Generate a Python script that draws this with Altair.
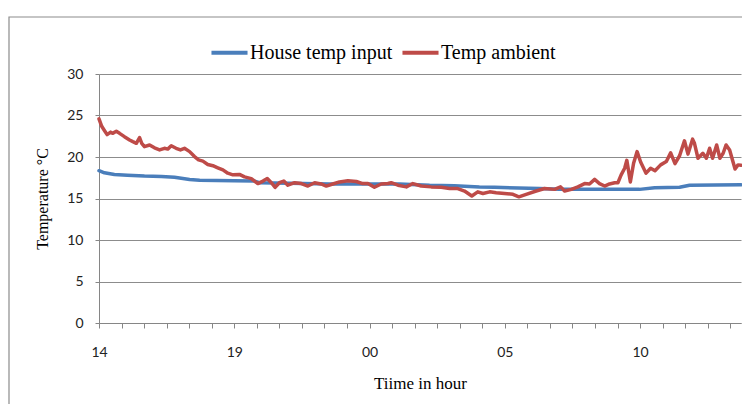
import altair as alt
import pandas as pd

# hours elapsed since 14:00
red_hours = [0.0, 0.10, 0.20, 0.30, 0.43, 0.50, 0.64, 0.76, 0.94, 1.13, 1.25, 1.38, 1.50, 1.58, 1.68,
             1.87, 2.05, 2.24, 2.42, 2.54, 2.67, 2.85, 3.01, 3.16, 3.35, 3.53, 3.68, 3.84, 4.02, 4.21,
             4.39, 4.58, 4.76, 4.95, 5.19, 5.38, 5.63, 5.87, 6.06, 6.22, 6.37, 6.51, 6.67, 6.83, 6.98,
             7.23, 7.48, 7.72, 7.97, 8.21, 8.40, 8.64, 8.89, 9.20, 9.51, 9.75, 9.94, 10.18, 10.43, 10.68,
             10.80, 11.05, 11.36, 11.60, 11.91, 12.28, 12.65, 12.96, 13.26, 13.51, 13.78, 14.00, 14.19,
             14.44, 14.68, 14.99, 15.30, 15.52, 15.79, 16.16, 16.47, 16.84, 17.06, 17.21, 17.46, 17.70,
             17.95, 18.13, 18.32, 18.50, 18.69, 18.87, 19.06, 19.18, 19.30, 19.43, 19.51, 19.64, 19.76,
             19.89, 20.02, 20.22, 20.39, 20.55, 20.76, 20.97, 21.13, 21.29, 21.46, 21.64, 21.77, 21.94,
             22.01, 22.14, 22.32, 22.45, 22.57, 22.68, 22.83, 22.95, 23.07, 23.18, 23.31, 23.51, 23.62,
             23.73]
red_temp = [24.6, 23.7, 23.2, 22.7, 23.0, 22.85, 23.1, 22.85, 22.45, 22.05, 21.85, 21.65, 22.35, 21.65, 21.25,
            21.45, 21.1, 20.85, 21.05, 20.95, 21.35, 21.05, 20.85, 21.05, 20.65, 20.05, 19.65, 19.5, 19.1, 18.95,
            18.7, 18.45, 18.05, 17.85, 17.9, 17.6, 17.4, 16.8, 17.1, 17.4, 16.9, 16.35, 16.9, 17.1, 16.6,
            16.9, 16.8, 16.5, 16.9, 16.75, 16.5, 16.75, 17.0, 17.15, 17.05, 16.8, 16.8, 16.35, 16.75, 16.8,
            16.9, 16.6, 16.4, 16.8, 16.5, 16.4, 16.35, 16.2, 16.2, 15.9, 15.3, 15.8, 15.6,
            15.8, 15.7, 15.6, 15.5, 15.2, 15.5, 15.9, 16.2, 16.1, 16.4, 15.9, 16.1, 16.4,
            16.8, 16.75, 17.3, 16.8, 16.5, 16.75, 16.9, 16.9, 17.85, 18.65, 19.6, 17.0, 19.25,
            20.65, 19.4, 18.05, 18.65, 18.35, 19.05, 19.45, 20.5, 19.2, 20.15, 21.95, 20.35, 22.15,
            21.65, 19.85, 20.45, 19.85, 21.05, 19.85, 21.45, 19.85, 20.45, 21.45, 20.85, 18.55, 19.05,
            19.0]

blue_hours = [0.0, 0.20, 0.57, 1.05, 1.68, 2.31, 2.79, 3.35, 3.72, 5.0, 5.75, 5.93, 7.04, 8.52, 11.1,
              12.22, 13.14, 14.06, 14.62, 16.28, 17.02, 18.5, 19.98, 20.54, 21.46, 21.83, 23.73]
blue_temp = [18.35, 18.1, 17.9, 17.8, 17.7, 17.65, 17.55, 17.3, 17.2, 17.15, 17.1, 16.9, 16.85, 16.75, 16.75,
             16.6, 16.55, 16.4, 16.35, 16.2, 16.1, 16.1, 16.1, 16.3, 16.35, 16.6, 16.65]

series_names = ["House temp input", "Temp ambient"]
series_colors = ["#4A7EBB", "#BE4B48"]
y_ticks = [0, 5, 10, 15, 20, 25, 30]
x_label_text = ["14", "19", "00", "05", "10"]
x_label_hours = [0, 5, 10, 15, 20]
x_tick_count = 29  # minor tick every 50 min

df = pd.concat([
    pd.DataFrame({"hours": blue_hours, "temp": blue_temp, "series": series_names[0]}),
    pd.DataFrame({"hours": red_hours, "temp": red_temp, "series": series_names[1]}),
])

x_tick_values = [round(i * 5 / 6, 4) for i in range(x_tick_count)]
idx = ",".join(str(h * 6) for h in x_label_hours)
labs = ",".join("'" + t + "'" for t in x_label_text)
label_expr = (f"indexof([{idx}], round(datum.value*6)) >= 0 ? "
              f"[{labs}][indexof([{idx}], round(datum.value*6))] : ''")

lines = alt.Chart(df).mark_line(strokeWidth=3.5, strokeJoin="round", strokeCap="round").encode(
    x=alt.X("hours:Q", scale=alt.Scale(domain=[0, 23.73], nice=False, zero=False),
            axis=alt.Axis(values=x_tick_values, labelExpr=label_expr, title="Tiime in hour",
                          grid=False, tickSize=5, labelPadding=17, titlePadding=16,
                          labelFlush=False, labelOverlap=False)),
    y=alt.Y("temp:Q", scale=alt.Scale(domain=[0, 30], nice=False),
            axis=alt.Axis(values=y_ticks, title="Temperature °C", grid=True, tickSize=4,
                          labelPadding=12, titlePadding=16)),
    color=alt.Color("series:N", scale=alt.Scale(domain=series_names, range=series_colors),
                    legend=alt.Legend(orient="none", legendX=110, legendY=-42, direction="horizontal",
                                      title=None, symbolType="stroke", symbolSize=1300,
                                      symbolStrokeWidth=4, labelFont="Liberation Serif",
                                      labelFontSize=20, labelColor="#000000", labelOffset=0,
                                      columnPadding=1, labelLimit=300)),
)

frame = alt.Chart(alt.Data(values=[{}])).mark_rect(
    fillOpacity=0, stroke="#8c8c8c", strokeWidth=1.2
).encode(x=alt.value(-90), x2=alt.value(700), y=alt.value(-57), y2=alt.value(400))

chart = alt.layer(frame, lines).properties(
    width=642, height=249,
    autosize=alt.AutoSizeParams(type="none"),
    padding={"left": 91, "top": 66, "right": 1, "bottom": 81},
).configure_view(stroke=None).configure_axis(
    domainColor="#868686", tickColor="#868686", gridColor="#8c8c8c",
    labelFont="Lato", labelFontSize=14, labelColor="#222222",
    titleFont="Liberation Serif", titleFontSize=17, titleFontWeight="normal", titleColor="#000000",
).configure_axisY(titleFontSize=16)

chart.save("out.html", embed_options={"renderer": "svg", "actions": False})
